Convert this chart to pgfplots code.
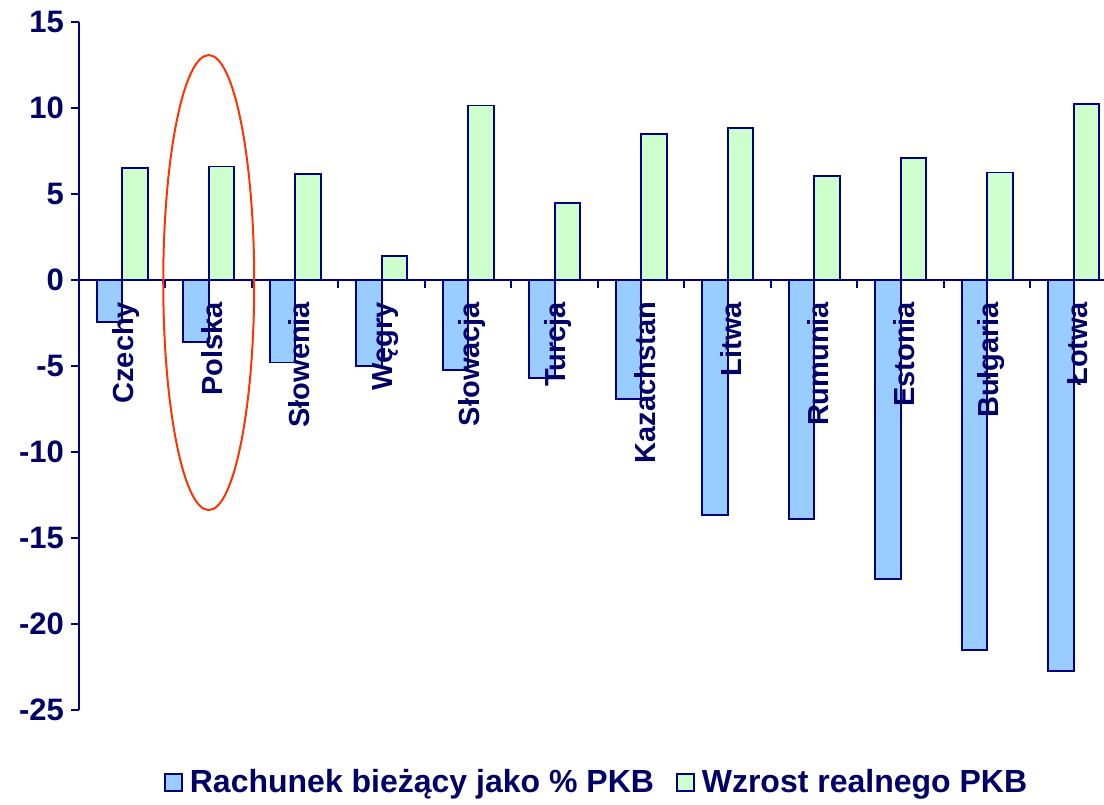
\documentclass[border=0pt]{standalone}
\usepackage{fontspec}
\setmainfont{Liberation Sans}
\usepackage{pgfplots}
\pgfplotsset{compat=1.18}
\definecolor{navy}{RGB}{0,0,128}
\definecolor{txt}{RGB}{0,0,102}
\definecolor{barblue}{RGB}{153,204,255}
\definecolor{bargreen}{RGB}{204,255,204}
\definecolor{ring}{RGB}{255,51,0}
\begin{document}
\begin{tikzpicture}
\path[use as bounding box] (0,0) rectangle (552pt,402pt);
\begin{axis}[
  at={(39.5pt,47pt)}, anchor=south west,
  scale only axis, width=512.5pt, height=344pt,
  xmin=-0.5, xmax=11.35, ymin=-25, ymax=15,
  clip=false,
  axis y line=left, axis x line=middle,
  axis line style={-, draw=navy, line width=1pt},
  ytick={-25,-20,-15,-10,-5,0,5,10,15},
  yticklabels={{-25},{-20},{-15},{-10},{-5},0,5,10,15},
  xtick={-0.5,0.5,1.5,2.5,3.5,4.5,5.5,6.5,7.5,8.5,9.5,10.5},
  xticklabels={},
  tick align=outside,
  major tick length=4pt,
  tick style={draw=navy, line width=1pt},
  y tick label style={font=\bfseries\fontsize{15.5}{17}\selectfont, text=txt},
  legend style={at={(0.506,-0.105)}, anchor=center, draw=none, fill=none,
    legend columns=2, font=\bfseries\fontsize{16}{18}\selectfont, text=txt,
    /tikz/every even column/.append style={column sep=9pt}},
]
\addplot[ybar, bar width=0.295, bar shift=-0.1475, fill=barblue, draw=navy, line width=0.9pt,
  legend image code/.code={\draw[fill=barblue, draw=navy, line width=0.8pt] (0pt,-4.5pt) rectangle (8.5pt,4pt); \node[draw=none, fill=none, inner sep=0pt, minimum size=0pt] at (10.5pt,0pt) {};}]
  coordinates {(0,-2.45) (1,-3.6) (2,-4.8) (3,-5.0) (4,-5.25) (5,-5.7) (6,-6.9) (7,-13.65) (8,-13.9) (9,-17.4) (10,-21.5) (11,-22.75)};
\addlegendentry{Rachunek bieżący jako \% PKB}
\addplot[ybar, bar width=0.295, bar shift=0.1475, fill=bargreen, draw=navy, line width=0.9pt,
  legend image code/.code={\draw[fill=bargreen, draw=navy, line width=0.8pt] (0pt,-4.5pt) rectangle (8.5pt,4pt); \node[draw=none, fill=none, inner sep=0pt, minimum size=0pt] at (10.5pt,0pt) {};}]
  coordinates {(0,6.5) (1,6.6) (2,6.15) (3,1.4) (4,10.15) (5,4.5) (6,8.5) (7,8.85) (8,6.05) (9,7.1) (10,6.25) (11,10.25)};
\addlegendentry{Wzrost realnego PKB}
\addplot[draw=none, mark=none, nodes near coords, point meta=explicit symbolic,
  nodes near coords style={xshift=1.8pt, rotate=90, anchor=east, inner sep=0pt,
    font=\bfseries\fontsize{14.5}{16}\selectfont, text=txt}]
  table[meta=lab, row sep=\\] {
  x y lab\\
  0 -1.25 Czechy\\
  1 -1.25 Polska\\
  2 -1.25 Słowenia\\
  3 -1.25 Węgry\\
  4 -1.25 Słowacja\\
  5 -1.25 Turcja\\
  6 -1.25 Kazachstan\\
  7 -1.25 Litwa\\
  8 -1.25 Rumunia\\
  9 -1.25 Estonia\\
  10 -1.25 Bułgaria\\
  11 -1.25 Łotwa\\
  };
\draw[ring, line width=1pt] (axis cs:1,-0.15) ellipse [x radius=22.75pt, y radius=113.75pt];
\end{axis}
\end{tikzpicture}
\end{document}
